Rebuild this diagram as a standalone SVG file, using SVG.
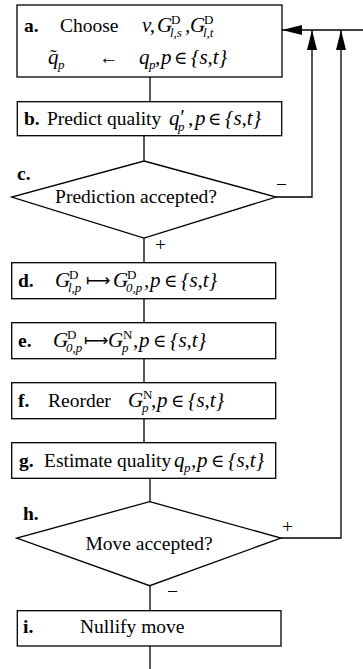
<svg xmlns="http://www.w3.org/2000/svg" width="363" height="669" viewBox="0 0 363 669" font-family="'Liberation Serif', 'Times New Roman', Times, serif">
<style>
.box{fill:#fff;stroke:#000;stroke-width:1.3}
.ln{fill:none;stroke:#000;stroke-width:1.3}
text{font-family:'Liberation Serif','Times New Roman',Times,serif;font-size:19.5px;fill:#000}
.b{font-weight:bold}
.m{font-style:italic;font-size:21px}
.s{font-size:13px}
.si{font-size:13px;font-style:italic}
.el{font-family:'DejaVu Serif',serif;font-size:18px;font-style:normal}
.mt{font-size:17px}
</style>
<defs>
<marker id="ah" markerWidth="20" markerHeight="10" refX="20" refY="5" orient="auto" markerUnits="userSpaceOnUse"><path d="M0,0 L20,5 L0,10 z" fill="#000"/></marker>
</defs>
<g id="connectors">
<line class="ln" x1="150" y1="77" x2="150" y2="101.7"/>
<line class="ln" x1="144" y1="135.7" x2="144" y2="161"/>
<line class="ln" x1="144" y1="238" x2="144" y2="262.7"/>
<line class="ln" x1="144" y1="298.7" x2="144" y2="322.7"/>
<line class="ln" x1="144" y1="358.7" x2="144" y2="382.7"/>
<line class="ln" x1="144" y1="418.7" x2="144" y2="442.7"/>
<line class="ln" x1="150" y1="478.3" x2="150" y2="501.7"/>
<line class="ln" x1="150" y1="585.7" x2="150" y2="610.7"/>
<line class="ln" x1="150" y1="646" x2="150" y2="669"/>
<line class="ln" x1="363" y1="30" x2="282" y2="30" marker-end="url(#ah)"/>
<polyline class="ln" points="276,197 312,197 312,30" marker-end="url(#ah)"/>
<polyline class="ln" points="281,538 341,538 341,30" marker-end="url(#ah)"/>
<text x="276" y="191">−</text>
<text x="155" y="251">+</text>
<text x="282" y="533">+</text>
<text x="167" y="598">−</text>
</g>
<g id="a">
<rect class="box" x="17" y="5" width="265" height="72"/>
<text x="24" y="32" class="b">a.</text>
<text x="60" y="32">Choose</text>
<text x="142" y="32" class="m">v,</text>
<text x="157" y="32" class="m">G</text>
<text x="171" y="24" class="s">D</text>
<text x="170" y="37" class="si">l,s</text>
<text x="185" y="32" class="m">,</text>
<text x="190" y="32" class="m">G</text>
<text x="204" y="24" class="s">D</text>
<text x="203" y="37" class="si">l,t</text>
<text x="48" y="64" class="m">q</text>
<text x="50" y="63">˜</text>
<text x="58" y="69" class="si">p</text>
<text x="99" y="64">←</text>
<text x="139" y="64" class="m">q</text>
<text x="149" y="69" class="si">p</text>
<text y="64" class="m"><tspan x="155">,</tspan><tspan x="161">p</tspan><tspan x="174" class="el">∈</tspan><tspan x="191">{s,t}</tspan></text>
</g>
<g id="b">
<rect class="box" x="17.3" y="101.7" width="264.4" height="34"/>
<text x="24" y="125" class="b">b.</text>
<text x="47" y="125">Predict quality</text>
<text x="169" y="125" class="m">q</text>
<text x="179" y="124" class="m">′</text>
<text x="178" y="131" class="si">p</text>
<text y="125" class="m"><tspan x="188">,</tspan><tspan x="195">p</tspan><tspan x="208" class="el">∈</tspan><tspan x="225">{s,t}</tspan></text>
</g>
<g id="c">
<polygon class="box" points="144,161 276,197 144,238 11.7,197"/>
<text x="17" y="180" class="b">c.</text>
<text x="136" y="203" text-anchor="middle">Prediction accepted?</text>
</g>
<g id="d">
<rect class="box" x="11.7" y="262.7" width="264" height="36"/>
<text x="18" y="287" class="b">d.</text>
<text x="55" y="287" class="m">G</text>
<text x="69" y="279" class="s">D</text>
<text x="68" y="292" class="si">l,p</text>
<text x="86" y="286" class="mt">⟼</text>
<text x="113" y="287" class="m">G</text>
<text x="127" y="279" class="s">D</text>
<text x="126" y="292" class="si">0,p</text>
<text y="287" class="m"><tspan x="144">,</tspan><tspan x="150">p</tspan><tspan x="164" class="el">∈</tspan><tspan x="181">{s,t}</tspan></text>
</g>
<g id="e">
<rect class="box" x="11.7" y="322.7" width="264" height="36"/>
<text x="18" y="347" class="b">e.</text>
<text x="53" y="347" class="m">G</text>
<text x="67" y="339" class="s">D</text>
<text x="66" y="352" class="si">0,p</text>
<text x="84" y="346" class="mt">⟼</text>
<text x="108" y="347" class="m">G</text>
<text x="123" y="339" class="s">N</text>
<text x="122" y="352" class="si">p</text>
<text y="347" class="m"><tspan x="133">,</tspan><tspan x="139">p</tspan><tspan x="153" class="el">∈</tspan><tspan x="170">{s,t}</tspan></text>
</g>
<g id="f">
<rect class="box" x="11.7" y="382.7" width="264" height="36"/>
<text x="18" y="407" class="b">f.</text>
<text x="48" y="407">Reorder</text>
<text x="128" y="407" class="m">G</text>
<text x="143" y="399" class="s">N</text>
<text x="142" y="412" class="si">p</text>
<text y="407" class="m"><tspan x="151">,</tspan><tspan x="157">p</tspan><tspan x="171" class="el">∈</tspan><tspan x="188">{s,t}</tspan></text>
</g>
<g id="g">
<rect class="box" x="11.7" y="442.7" width="264" height="35.6"/>
<text x="19" y="467" class="b">g.</text>
<text x="44" y="467">Estimate quality</text>
<text x="174" y="467" class="m">q</text>
<text x="184" y="472" class="si">p</text>
<text y="467" class="m"><tspan x="191">,</tspan><tspan x="197">p</tspan><tspan x="211" class="el">∈</tspan><tspan x="228">{s,t}</tspan></text>
</g>
<g id="h">
<polygon class="box" points="149.7,501.7 281,538 149.7,585.7 16.7,538"/>
<text x="23" y="520" class="b">h.</text>
<text x="149" y="550" text-anchor="middle">Move accepted?</text>
</g>
<g id="i">
<rect class="box" x="17.3" y="610.7" width="263.7" height="35.3"/>
<text x="23" y="633" class="b">i.</text>
<text x="80" y="633">Nullify move</text>
</g>
</svg>
